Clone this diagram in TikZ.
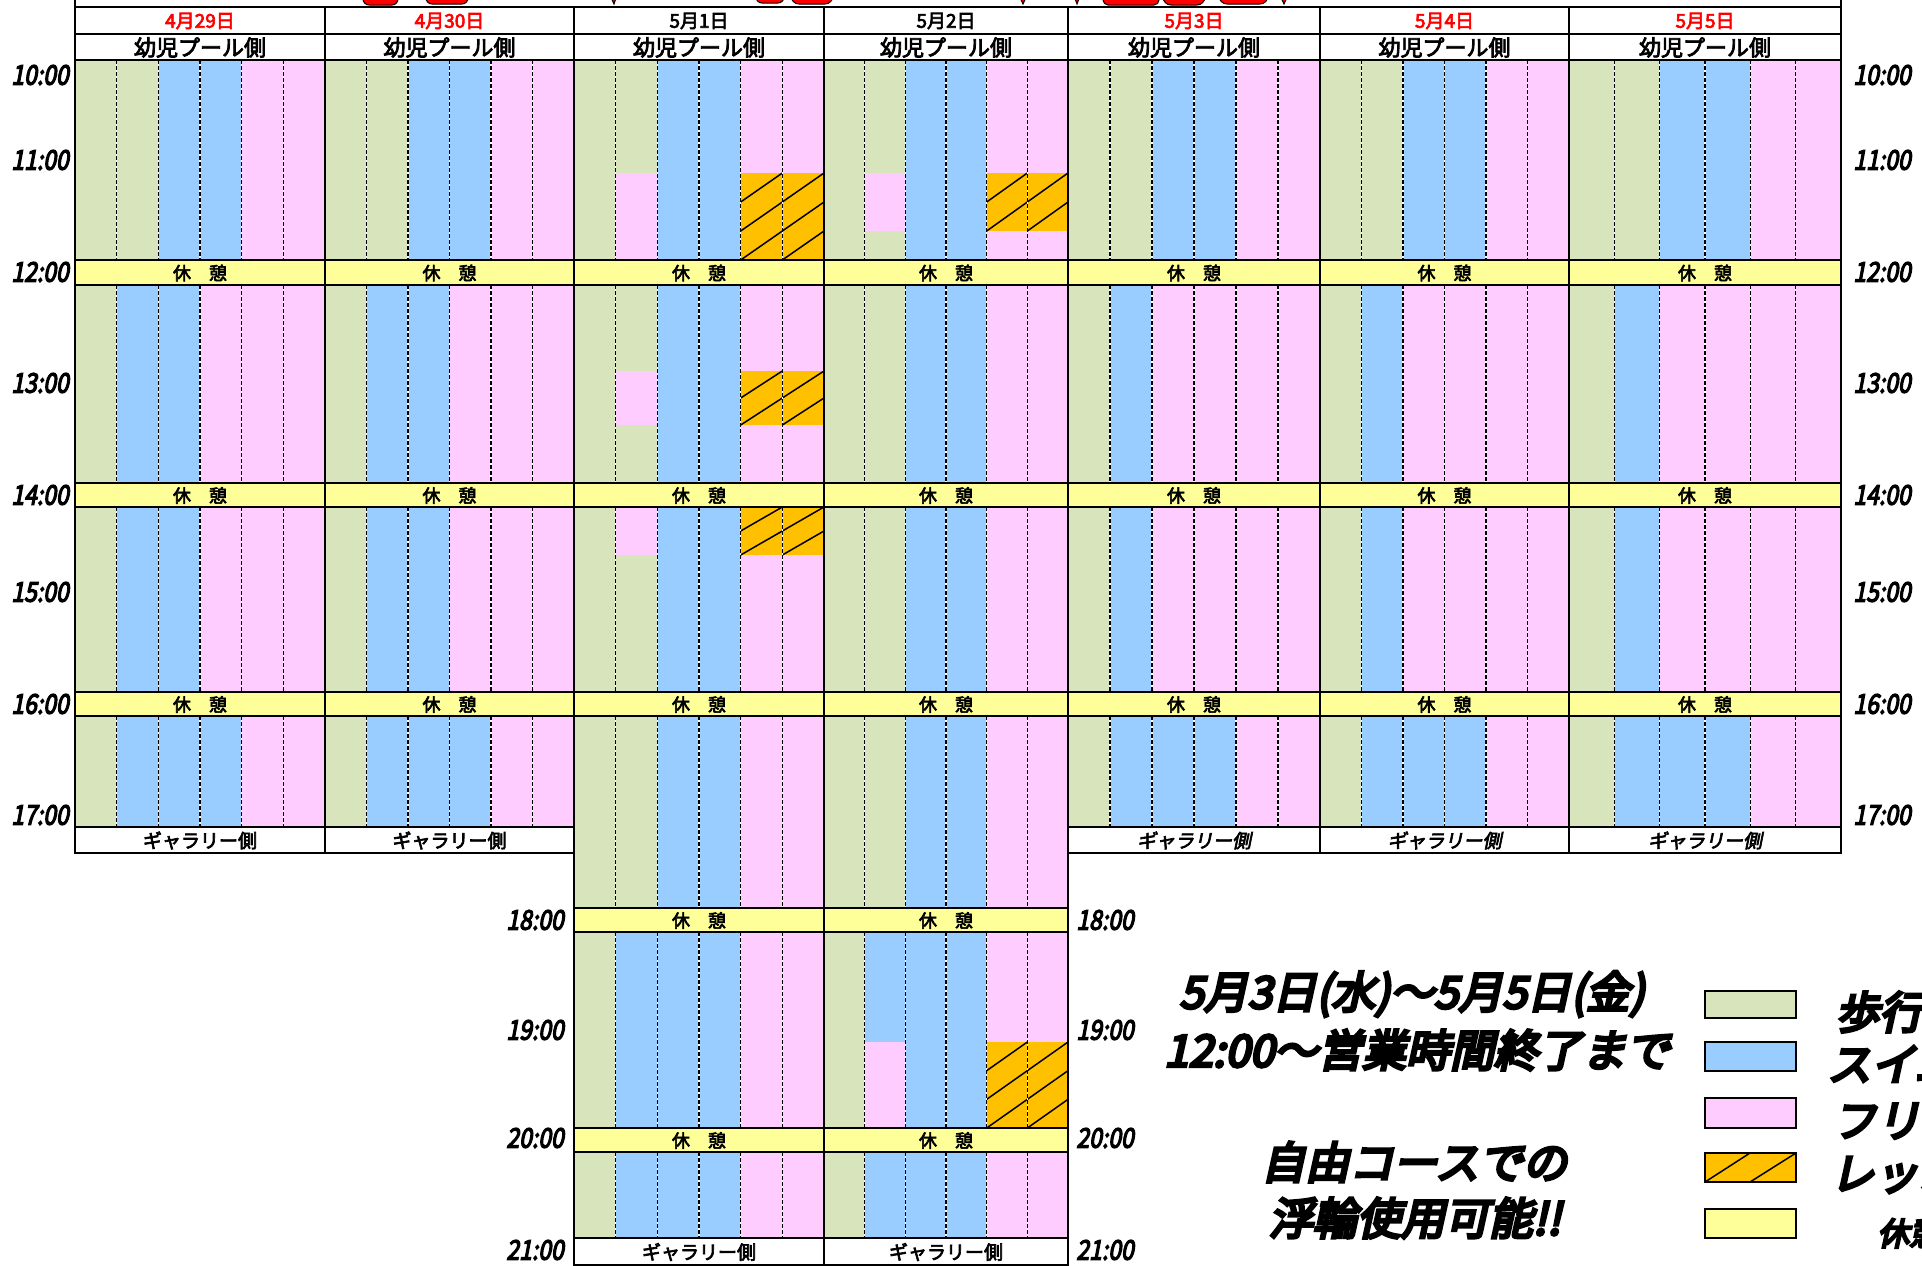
\documentclass[tikz,border=0pt]{standalone}
\usepackage{fontspec}
\newfontfamily\jpfont{Noto Sans CJK JP}[FakeBold=3.5]
\newfontfamily\jpitalic{Noto Sans CJK JP}[FakeBold=3.5,FakeSlant=0.2]
\newfontfamily\jptime{Noto Sans CJK JP}[FakeBold=5,FakeSlant=0.22]
\newfontfamily\jpheavy{Noto Sans CJK JP}[FakeBold=7,FakeSlant=0.22]
\definecolor{cg}{HTML}{D8E4BC}
\definecolor{cb}{HTML}{99CCFF}
\definecolor{cp}{HTML}{FFCCFF}
\definecolor{co}{HTML}{FFC000}
\definecolor{cy}{HTML}{FFFF99}
\definecolor{cr}{HTML}{FF0000}
\tikzset{
  border/.style={line width=2.6pt},
  sepback/.style={line width=1.4pt, white},
  sepline/.style={line width=1.4pt, dash pattern=on 4pt off 2pt},
  hatchline/.style={line width=1.5pt},
  frag/.style={fill=cr, draw=black, line width=1pt},
  datetxt/.style={font=\jpfont\fontsize{19}{19}\selectfont, inner sep=0pt},
  hdrtxt/.style={font=\jpfont\fontsize{22}{22}\selectfont, inner sep=0pt},
  brktxt/.style={font=\jpfont\fontsize{18}{18}\selectfont, inner sep=0pt},
  galtxt/.style={font=\jpfont\fontsize{19}{19}\selectfont, inner sep=0pt},
  galtxtit/.style={font=\jpitalic\fontsize{19}{19}\selectfont, inner sep=0pt},
  timetxt/.style={font=\jptime\fontsize{27}{27}\selectfont, inner sep=0pt, xscale=0.85},
  notetxt/.style={font=\jpheavy\fontsize{44}{44}\selectfont, inner sep=0pt},
  legtxt/.style={font=\jpheavy\fontsize{44}{44}\selectfont, inner sep=0pt, anchor=west},
  legbox/.style={draw, line width=2pt},
}
% fill six lanes of one day section
\newcommand\lanefill[5]{%
  \foreach \cc [count=\kk from 0] in {#5}{%
    \fill[\cc] ({#1+\kk*(#2-#1)/6},#3) rectangle ({#1+(\kk+1)*(#2-#1)/6},#4);}}
\newcommand\lanerect[6]{%
  \fill[#6] ({#1+#3*(#2-#1)/6},#4) rectangle ({#1+(#3+1)*(#2-#1)/6},#5);}
\newcommand\hatchcell[6]{%
  \pgfmathsetmacro\hxa{#1+#3*(#2-#1)/6}%
  \pgfmathsetmacro\hxb{#1+(#3+1)*(#2-#1)/6}%
  \pgfmathsetmacro\hst{(#5-#4)/#6}%
  \fill[co] (\hxa,#4) rectangle (\hxb,#5);
  \foreach \m in {1,...,#6}{\draw[hatchline] (\hxa,{#4+\m*\hst}) -- (\hxb,{#4+(\m-1)*\hst});}}
\newcommand\lanesep[4]{%
  \foreach \kk in {1,...,5}{%
    \draw[sepback] ({#1+\kk*(#2-#1)/6},#3) -- ({#1+\kk*(#2-#1)/6},#4);
    \draw[sepline] ({#1+\kk*(#2-#1)/6},#3) -- ({#1+\kk*(#2-#1)/6},#4);}}
\begin{document}
\begin{tikzpicture}[x=1pt,y=-1pt]
\useasboundingbox (0,0) rectangle (1922,1266);
\fill[white] (0,0) rectangle (1922,1266);

% ---- title fragments (cut off at top)
\begin{scope}
\clip (76,0) rectangle (1840,6);
\path[frag, rounded corners=6pt] (363,-40) rectangle (398,5);
\path[frag, rounded corners=6pt] (426,-40) rectangle (468,4);
\path[frag] (603,-20) -- (614,4) -- (622,-20) -- cycle;
\path[frag, rounded corners=6pt] (756,-40) rectangle (784,3);
\path[frag, rounded corners=8pt] (791,-40) rectangle (833,4);
\path[frag] (1012,-20) -- (1023,4) -- (1034,-20) -- cycle;
\path[frag] (1068,-20) -- (1077,4) -- (1086,-20) -- cycle;
\path[frag, rounded corners=5pt] (1103,-40) rectangle (1159,5);
\path[frag, rounded corners=8pt] (1163,-40) rectangle (1205,5);
\path[frag, rounded corners=8pt] (1219,-40) rectangle (1268,4);
\path[frag] (1273,-20) -- (1284,4) -- (1295,-20) -- cycle;
\end{scope}

% ---- lanes, short days
\lanefill{75}{325}{60}{260}{cg,cg,cb,cb,cp,cp}
\lanefill{75}{325}{285}{483}{cg,cb,cb,cp,cp,cp}
\lanefill{75}{325}{507}{692}{cg,cb,cb,cp,cp,cp}
\lanefill{75}{325}{716}{827}{cg,cb,cb,cb,cp,cp}
\lanefill{325}{574}{60}{260}{cg,cg,cb,cb,cp,cp}
\lanefill{325}{574}{285}{483}{cg,cb,cb,cp,cp,cp}
\lanefill{325}{574}{507}{692}{cg,cb,cb,cp,cp,cp}
\lanefill{325}{574}{716}{827}{cg,cb,cb,cb,cp,cp}
\foreach \xa/\xb in {1068/1320,1320/1569,1569/1841}{
  \lanefill{\xa}{\xb}{60}{260}{cg,cg,cb,cb,cp,cp}
  \lanefill{\xa}{\xb}{285}{483}{cg,cb,cp,cp,cp,cp}
  \lanefill{\xa}{\xb}{507}{692}{cg,cb,cp,cp,cp,cp}
  \lanefill{\xa}{\xb}{716}{827}{cg,cb,cb,cb,cp,cp}
}
% ---- lanes, long days
\foreach \xa/\xb in {574/824,824/1068}{
  \lanefill{\xa}{\xb}{60}{260}{cg,cg,cb,cb,cp,cp}
  \lanefill{\xa}{\xb}{285}{483}{cg,cg,cb,cb,cp,cp}
  \lanefill{\xa}{\xb}{507}{692}{cg,cg,cb,cb,cp,cp}
  \lanefill{\xa}{\xb}{716}{908}{cg,cg,cb,cb,cp,cp}
  \lanefill{\xa}{\xb}{932}{1128}{cg,cb,cb,cb,cp,cp}
  \lanefill{\xa}{\xb}{1152}{1238}{cg,cb,cb,cb,cp,cp}
}
% ---- special blocks 5/1
\lanerect{574}{824}{1}{173}{260}{cp}
\hatchcell{574}{824}{4}{173}{260}{3}
\hatchcell{574}{824}{5}{173}{260}{3}
\lanerect{574}{824}{1}{371}{425}{cp}
\hatchcell{574}{824}{4}{371}{425}{2}
\hatchcell{574}{824}{5}{371}{425}{2}
\lanerect{574}{824}{1}{507}{555}{cp}
\hatchcell{574}{824}{4}{507}{555}{2}
\hatchcell{574}{824}{5}{507}{555}{2}
% ---- special blocks 5/2
\lanerect{824}{1068}{1}{173}{231}{cp}
\hatchcell{824}{1068}{4}{173}{231}{2}
\hatchcell{824}{1068}{5}{173}{231}{2}
\lanerect{824}{1068}{1}{1042}{1128}{cp}
\hatchcell{824}{1068}{4}{1042}{1128}{3}
\hatchcell{824}{1068}{5}{1042}{1128}{3}

% ---- lane separators
\foreach \xa/\xb in {75/325,325/574,1068/1320,1320/1569,1569/1841}{
  \foreach \ya/\yb in {60/260,285/483,507/692,716/827}{\lanesep{\xa}{\xb}{\ya}{\yb}}}
\foreach \xa/\xb in {574/824,824/1068}{
  \foreach \ya/\yb in {60/260,285/483,507/692,716/908,932/1128,1152/1238}{\lanesep{\xa}{\xb}{\ya}{\yb}}}

% ---- break rows
\foreach \ya/\yb in {260/285,483/507,692/716}{\fill[cy] (75,\ya) rectangle (1841,\yb);}
\foreach \ya/\yb in {908/932,1128/1152}{\fill[cy] (574,\ya) rectangle (1068,\yb);}

% ---- borders
\draw[border] (75,0) -- (75,853) -- (574,853);
\draw[border] (1841,0) -- (1841,853) -- (1068,853);
\draw[border] (75,7) -- (1841,7);
\foreach \yy in {34,60,260,285,483,507,692,716}{\draw[border] (75,\yy) -- (1841,\yy);}
\draw[border] (75,827) -- (574,827);
\draw[border] (1068,827) -- (1841,827);
\foreach \xx in {325,574,824,1068,1320,1569}{\draw[border] (\xx,7) -- (\xx,853);}
\draw[border] (574,853) -- (574,1265) -- (1068,1265) -- (1068,853);
\draw[border] (824,853) -- (824,1265);
\foreach \yy in {908,932,1128,1152,1238}{\draw[border] (574,\yy) -- (1068,\yy);}

% ---- dates and headers
\foreach \xc/\txt/\col [count=\i] in {200/4月29日/cr,449.5/4月30日/cr,699/5月1日/black,946/5月2日/black,1194/5月3日/cr,1444.5/5月4日/cr,1705/5月5日/cr}{
  \node[datetxt, text=\col] (date\i) at (\xc,21) {\txt};
  \node[hdrtxt] (hdr\i) at (\xc,47.5) {幼児プール側};
}
% break labels
\foreach \xc [count=\i] in {200,449.5,699,946,1194,1444.5,1705}{
  \node[brktxt] (brkA\i) at (\xc,273) {休　憩};
  \node[brktxt] (brkB\i) at (\xc,495.5) {休　憩};
  \node[brktxt] (brkC\i) at (\xc,704.5) {休　憩};
}
\foreach \xc [count=\i] in {699,946}{
  \node[brktxt] (brkD\i) at (\xc,920.5) {休　憩};
  \node[brktxt] (brkE\i) at (\xc,1140.5) {休　憩};
  \node[galtxt] (galL\i) at (\xc,1252) {ギャラリー側};
}
\node[galtxt] (gal1) at (200,840.5) {ギャラリー側};
\node[galtxt] (gal2) at (449.5,840.5) {ギャラリー側};
\node[galtxtit] (gal3) at (1194,840.5) {ギャラリー側};
\node[galtxtit] (gal4) at (1444.5,840.5) {ギャラリー側};
\node[galtxtit] (gal5) at (1705,840.5) {ギャラリー側};

% ---- time labels
\foreach \t/\yy [count=\i] in {10:00/75,11:00/160,12:00/272,13:00/383,14:00/495,15:00/592,16:00/704,17:00/815}{
  \node[timetxt] (tl\i) at (40,\yy) {\t};
  \node[timetxt] (tr\i) at (1882,\yy) {\t};
}
\foreach \t/\yy [count=\i] in {18:00/920,19:00/1030,20:00/1138,21:00/1250}{
  \node[timetxt] (tml\i) at (535,\yy) {\t};
  \node[timetxt] (tmr\i) at (1105,\yy) {\t};
}

% ---- notes
\node[notetxt] (noteA) at (1412,994) {5月3日(水)～5月5日(金)};
\node[notetxt] (noteB) at (1417,1050) {12:00～営業時間終了まで};
\node[notetxt] (noteC) at (1414,1162) {自由コースでの};
\node[notetxt] (noteD) at (1415,1218) {浮輪使用可能!!};

% ---- legend
\draw[legbox, fill=cg] (1705,991) rectangle (1796,1018);
\draw[legbox, fill=cb] (1705,1042) rectangle (1796,1071);
\draw[legbox, fill=cp] (1705,1098) rectangle (1796,1128);
\draw[legbox, fill=co] (1705,1153) rectangle (1796,1182);
\draw[hatchline] (1705,1182) -- (1750,1153);
\draw[hatchline] (1750,1182) -- (1796,1153);
\draw[legbox] (1705,1153) rectangle (1796,1182);
\draw[legbox, fill=cy] (1705,1209) rectangle (1796,1238);
\node[legtxt] (legA) at (1835,1012) {歩行コース};
\node[legtxt] (legB) at (1827,1064) {スイムコース};
\node[legtxt] (legC) at (1832,1121) {フリーコース};
\node[legtxt] (legD) at (1830,1175) {レッスンコース};
\node[legtxt, font=\jpheavy\fontsize{32}{32}\selectfont] (legE) at (1877,1233) {休憩};
\end{tikzpicture}
\end{document}
